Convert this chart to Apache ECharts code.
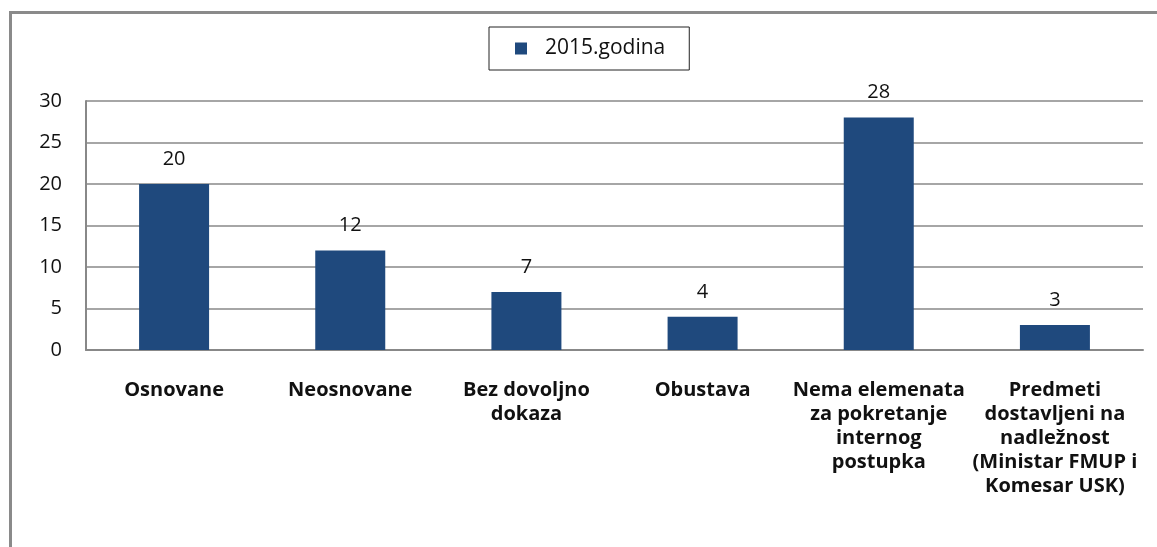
<!DOCTYPE html>
<html>
<head>
<meta charset="utf-8">
<script src="https://cdn.jsdelivr.net/npm/echarts@6/dist/echarts.min.js"></script>
<style>
    html, body {
        margin: 0;
        padding: 0;
        background: #fff;
    }
    #frame {
        position: absolute;
        left: 9px;
        top: 11px;
        width: 1148px;
        height: 536px;
        border-left: 3px solid #8a8a8a;
        border-top: 3px solid #8a8a8a;
    }
    #chart {
        position: absolute;
        left: 0;
        top: 0;
        width: 1157px;
        height: 547px;
    }
</style>
</head>
<body>
<div id="frame"></div>
<div id="chart"></div>
<script>
    // 类别 / 数据
    const categories = [
        'Osnovane',
        'Neosnovane',
        'Bez dovoljno\ndokaza',
        'Obustava',
        'Nema elemenata\nza pokretanje\ninternog\npostupka',
        'Predmeti\ndostavljeni na\nnadležnost\n(Ministar FMUP i\nKomesar USK)'
    ];
    const values2015 = [20, 12, 7, 4, 28, 3];
    const seriesName = '2015.godina';
    const yTicks = {min: 0, max: 30, interval: 5};

    const font = '"Open Sans", Lato, sans-serif';

    const chart = echarts.init(document.getElementById('chart'));
    chart.setOption({
        animation: false,
        grid: {
            left: 86,
            right: 14,
            top: 101,
            bottom: 197
        },
        legend: {
            data: [seriesName],
            left: 489,
            top: 27,
            padding: [11, 24, 11, 26],
            borderColor: '#222',
            borderWidth: 1,
            itemWidth: 12,
            itemHeight: 12,
            icon: 'rect',
            textStyle: {
                fontFamily: font,
                fontSize: 21,
                color: '#111',
                padding: [0, 0, 0, 13]
            }
        },
        xAxis: {
            type: 'category',
            data: categories,
            axisLine: {
                lineStyle: {color: '#888', width: 2}
            },
            axisTick: {show: false},
            axisLabel: {
                interval: 0,
                margin: 28,
                fontFamily: font,
                fontSize: 20,
                fontWeight: 'bold',
                color: '#111',
                lineHeight: 24,
                align: 'center'
            }
        },
        yAxis: {
            type: 'value',
            min: yTicks.min,
            max: yTicks.max,
            interval: yTicks.interval,
            axisLine: {
                show: true,
                lineStyle: {color: '#888', width: 2}
            },
            axisTick: {show: false},
            splitLine: {
                lineStyle: {color: '#888', width: 1.5}
            },
            axisLabel: {
                margin: 24,
                fontFamily: font,
                fontSize: 20,
                color: '#111'
            }
        },
        series: [{
            name: seriesName,
            type: 'bar',
            data: values2015,
            barWidth: 70,
            itemStyle: {
                color: '#1F497D'
            },
            label: {
                show: true,
                position: 'top',
                distance: 15,
                fontFamily: font,
                fontSize: 20,
                color: '#111'
            }
        }]
    });
</script>
</body>
</html>
